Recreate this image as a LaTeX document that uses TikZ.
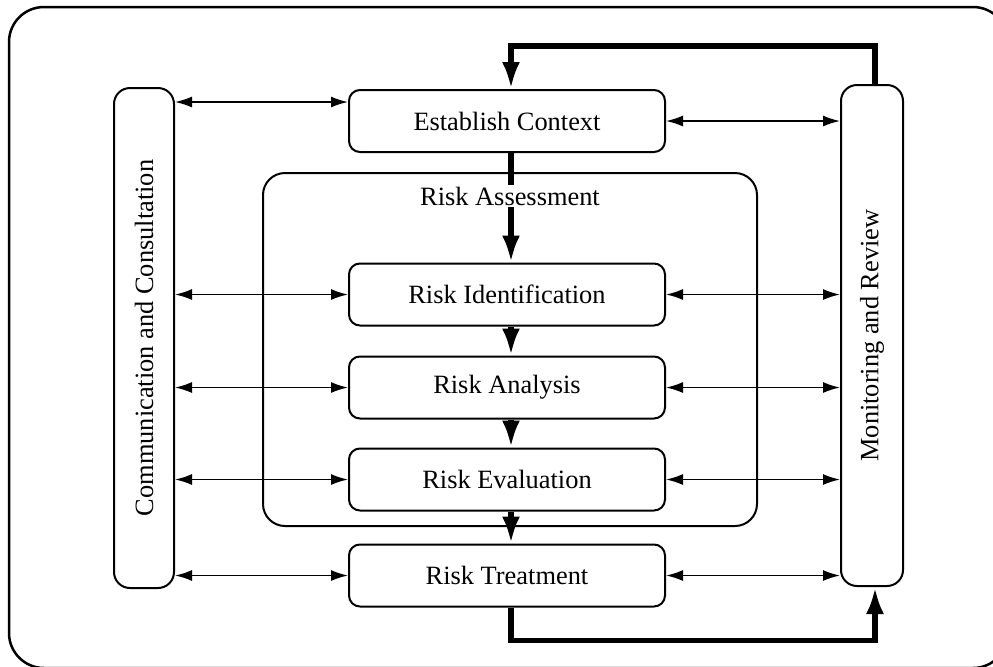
\documentclass[tikz,border=0pt]{standalone}
\usepackage{fontspec}
\setmainfont{Liberation Serif}
\usetikzlibrary{arrows.meta}
\tikzset{
  stepbox/.style={draw, line width=1pt, rounded corners=5.5pt, minimum width=158pt, minimum height=31pt, inner sep=0pt, font=\fontsize{13.2pt}{15pt}\selectfont},
  sidebox/.style={draw, line width=1pt, rounded corners=8pt, inner sep=0pt},
  sidetext/.style={rotate=90, font=\fontsize{13.2pt}{15pt}\selectfont, inner sep=0pt},
  thinarrow/.style={line width=0.8pt, {Latex[length=8.5pt,width=5.5pt]}-{Latex[length=8.5pt,width=5.5pt]}},
  thickarrow/.style={line width=2.75pt, line join=miter, -{Latex[length=13.5pt,width=9pt]}},
}
\begin{document}
\begin{tikzpicture}[x=0.5pt, y=-0.5pt]
\useasboundingbox (0,0) rectangle (993,666);
\begin{scope}
  \clip (0,0) rectangle (993,666);
  \draw[line width=1.25pt, rounded corners=17.5pt] (9,7) rectangle (1008,668);
\end{scope}

% Risk Assessment container
\node[draw, line width=1pt, rounded corners=11pt, minimum width=247pt, minimum height=176.5pt, inner sep=0pt] (ra) at (510,349.5) {};

% side columns
\node[sidebox, minimum width=30pt, minimum height=250pt] (cc) at (144,338) {};
\node[sidetext] (cct) at (cc.center) {Communication and Consultation};
\node[sidebox, minimum width=31pt, minimum height=250.5pt] (mr) at (872,335.5) {};
\node[sidetext] (mrt) at (mr.center) {Monitoring and Review};

% step boxes
\node[stepbox] (ec) at (507,121) {Establish Context};
\node[stepbox] (ri) at (507,294.5) {Risk Identification};
\node[stepbox] (an) at (507,387.5) {Risk Analysis};
\node[stepbox] (ev) at (507,479.5) {Risk Evaluation};
\node[stepbox] (rt) at (507,575.5) {Risk Treatment};

% vertical flow
\draw[thickarrow] ([xshift=2pt]ec.south) -- ([xshift=2pt]ri.north);
\node[fill=white, inner sep=1pt, font=\fontsize{13.2pt}{15pt}\selectfont] (ral) at (510,196) {Risk Assessment};
\draw[thickarrow] ([xshift=2pt]ri.south) -- ([xshift=2pt]an.north);
\draw[thickarrow] ([xshift=2pt]an.south) -- ([xshift=2pt]ev.north);
\draw[thickarrow] ([xshift=2pt]ev.south) -- ([xshift=2pt]rt.north);

% feedback loops
\draw[thickarrow] ([xshift=1.5pt]mr.north) -- ++(0,-38) -| ([xshift=2pt]ec.north);
\draw[thickarrow] ([xshift=2pt]rt.south) -- ++(0,33) -| ([xshift=1.5pt]mr.south);

% horizontal arrows
\coordinate (ecl) at ([yshift=9.5pt]ec.west);
\draw[thinarrow] (ecl -| cc.east) -- (ecl);
\draw[thinarrow] (ec.east) -- (ec.east -| mr.west);
\foreach \n in {ri,an,ev,rt} {
  \draw[thinarrow] (\n.west -| cc.east) -- (\n.west);
  \draw[thinarrow] (\n.east) -- (\n.east -| mr.west);
}
\end{tikzpicture}
\end{document}
